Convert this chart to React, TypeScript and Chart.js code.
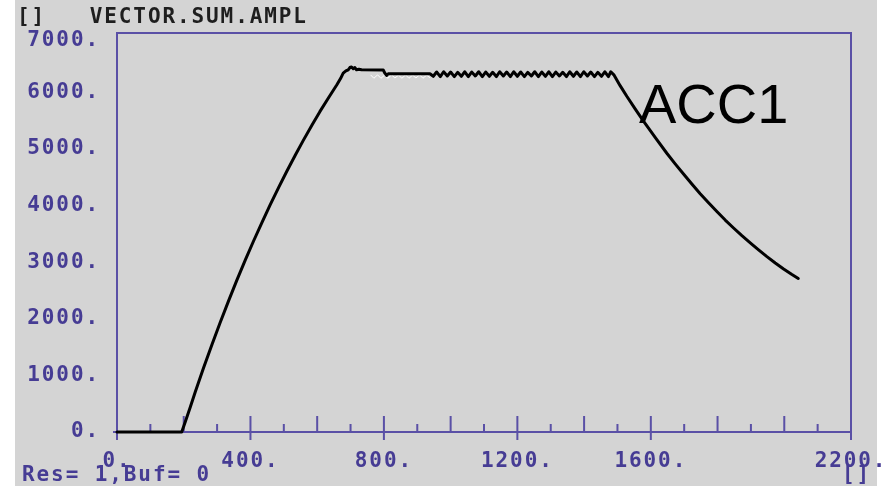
import { useEffect, useRef } from 'react';
import { Chart, registerables } from 'chart.js';

Chart.register(...registerables);

// ---- data ----
const accX = [
  0, 100, 194, 205, 219, 235, 259, 285, 309, 335, 359, 385, 409, 435, 459, 485, 509, 535, 558, 585,
  608, 635, 648, 659, 670, 678, 686, 693, 698, 703, 708, 713, 718, 725, 733, 798, 803, 808, 813, 820, 938,
  948, 958, 969, 979, 990, 1000, 1011, 1021, 1032, 1042, 1053, 1063, 1074, 1084, 1095, 1105, 1116, 1126,
  1137, 1147, 1158, 1168, 1179, 1189, 1200, 1210, 1221, 1231, 1242, 1252, 1263, 1273, 1284, 1294, 1305,
  1315, 1326, 1336, 1347, 1357, 1368, 1378, 1389, 1399, 1410, 1420, 1431, 1441, 1452, 1462, 1473, 1480,
  1490, 1508, 1528, 1553, 1578, 1613, 1648, 1673, 1698, 1723, 1748, 1773, 1798, 1823, 1848, 1873, 1898,
  1923, 1948, 1973, 1998, 2023, 2042,
];
const accY = [
  0, 0, 0, 185, 430, 715, 1125, 1550, 1930, 2325, 2680, 3045, 3370, 3710, 4012, 4328, 4608, 4898, 5148, 5430,
  5660, 5915, 6035, 6135, 6245, 6340, 6380, 6400, 6440, 6450, 6420, 6440, 6400, 6410, 6400, 6396, 6340, 6300, 6330, 6330, 6330,
  6285, 6360, 6280, 6365, 6290, 6360, 6280, 6355, 6285, 6365,
  6280, 6360, 6290, 6365, 6280, 6360, 6285, 6355, 6280, 6365,
  6290, 6360, 6280, 6365, 6285, 6360, 6280, 6355, 6290, 6365,
  6280, 6360, 6285, 6365, 6280, 6360, 6290, 6355, 6280, 6365,
  6285, 6360, 6280, 6365, 6290, 6360, 6280, 6355, 6285, 6365,
  6280, 6365,
  6305, 6120, 5932, 5710, 5492, 5204, 4925, 4738, 4558, 4382, 4210, 4050, 3895, 3745, 3605, 3470, 3342,
  3218, 3098, 2986, 2880, 2782, 2712,
];
const ghostX = [760, 770, 781, 791, 802, 812, 823, 833, 844, 854, 865, 875, 886, 896, 907, 917, 928, 938];
const ghostY = [6310, 6250, 6310, 6250, 6305, 6250, 6310, 6255, 6305, 6250, 6310, 6250, 6305, 6255, 6310, 6250, 6305, 6260];

const xLabelTicks = [0, 400, 800, 1200, 1600, 2200];
const xMajorTicks = [200, 600, 1000, 1400, 1800, 2000];
const xMinorTicks = [100, 300, 500, 700, 900, 1100, 1300, 1500, 1700, 1900, 2100];
const yTicks = [0, 1000, 2000, 3000, 4000, 5000, 6000, 7000];
const yTopTick = 7000;

const titleText = '[]   VECTOR.SUM.AMPL';
const footerText = 'Res= 1,Buf= 0';
const cornerText = '[]';
const curveName = 'ACC1';

// ---- styles ----
const BG = '#d4d4d4';
const AXIS = '#5a50a6';
const LABEL = '#463c94';
const TITLE = '#1e1e1e';
const MONO_FAMILY = '"DejaVu Sans Mono", monospace';
const MONO_SIZE = 21;
const MONO = `bold ${MONO_SIZE}px ${MONO_FAMILY}`;
const SPACING = '1.9px';

function setSpacing(chart: any) {
  (chart.ctx as any).letterSpacing = SPACING;
}

const scopePlugin = {
  id: 'scopePlugin',
  beforeUpdate: setSpacing,
  beforeLayout: setSpacing,
  beforeDraw(chart: any) {
    const ctx = chart.ctx;
    setSpacing(chart);
    ctx.save();
    ctx.fillStyle = '#ffffff';
    ctx.fillRect(0, 0, chart.width, chart.height);
    ctx.fillStyle = BG;
    ctx.fillRect(15, 0, 862, chart.height);
    ctx.restore();
  },
  beforeDatasetsDraw(chart: any) {
    const ctx = chart.ctx;
    const xs = chart.scales.x;
    const ys = chart.scales.y;
    const x0 = xs.getPixelForValue(0);
    const x1 = xs.getPixelForValue(2200);
    const yb = ys.getPixelForValue(0);
    const yt = chart.chartArea.top;
    ctx.save();
    ctx.strokeStyle = AXIS;
    ctx.lineWidth = 2;
    ctx.beginPath();
    ctx.moveTo(x0, yb + 8);
    ctx.lineTo(x0, yt);
    ctx.lineTo(x1, yt);
    ctx.lineTo(x1, yb + 8);
    ctx.moveTo(x0 - 4, yb);
    ctx.lineTo(x1, yb);
    xLabelTicks.forEach((v) => {
      const p = xs.getPixelForValue(v);
      ctx.moveTo(p, yb - 16);
      ctx.lineTo(p, yb + 8);
    });
    xMajorTicks.forEach((v) => {
      const p = xs.getPixelForValue(v);
      ctx.moveTo(p, yb - 16);
      ctx.lineTo(p, yb);
    });
    xMinorTicks.forEach((v) => {
      const p = xs.getPixelForValue(v);
      ctx.moveTo(p, yb - 8);
      ctx.lineTo(p, yb);
    });
    ctx.stroke();
    ctx.restore();
  },
  afterDatasetsDraw(chart: any) {
    const ctx = chart.ctx;
    ctx.save();
    ctx.letterSpacing = SPACING;
    ctx.font = MONO;
    ctx.textBaseline = 'middle';
    ctx.textAlign = 'left';
    ctx.fillStyle = TITLE;
    ctx.fillText(titleText, 17, 18);
    ctx.fillStyle = LABEL;
    ctx.fillText(footerText, 22, 476);
    ctx.fillText(cornerText, 842, 476);
    ctx.letterSpacing = '0px';
    ctx.font = '56px "Liberation Sans", Arial, sans-serif';
    ctx.textBaseline = 'alphabetic';
    ctx.fillStyle = '#000000';
    ctx.fillText(curveName, 639, 123);
    ctx.restore();
  },
};

export default function App() {
  const ref = useRef<HTMLCanvasElement>(null);

  useEffect(() => {
    document.body.style.margin = '0';
    const accData = accX.map((x, i) => ({ x, y: accY[i] }));
    const ghostData = ghostX.map((x, i) => ({ x, y: ghostY[i] }));
    const chart = new Chart(ref.current as HTMLCanvasElement, {
      type: 'line',
      data: {
        datasets: [
          {
            label: curveName,
            data: accData,
            borderColor: '#000000',
            borderWidth: 3,
            pointRadius: 0,
            tension: 0,
            fill: false,
            clip: false as any,
            borderJoinStyle: 'round',
            borderCapStyle: 'round',
          },
          {
            label: 'trace',
            data: ghostData,
            borderColor: '#ffffff',
            borderWidth: 1,
            pointRadius: 0,
            tension: 0,
            fill: false,
          },
        ],
      },
      options: {
        animation: false,
        responsive: false,
        events: [],
        layout: { padding: { left: 0, right: 35, top: 33, bottom: 0 } },
        plugins: {
          legend: { display: false },
          tooltip: { enabled: false },
          title: { display: false },
        },
        scales: {
          x: {
            type: 'linear',
            position: 'bottom',
            min: 0,
            max: 2200,
            grid: { display: false },
            border: { display: false },
            afterBuildTicks: (scale: any) => {
              scale.ticks = xLabelTicks.map((v) => ({ value: v }));
            },
            afterFit: (scale: any) => {
              scale.height = 54;
              scale.paddingLeft = 0;
              scale.paddingRight = 0;
            },
            ticks: {
              autoSkip: false,
              maxRotation: 0,
              minRotation: 0,
              padding: 9,
              color: LABEL,
              font: { family: MONO_FAMILY, size: MONO_SIZE, weight: 'bold' },
              callback: (v: any) => `${v}.`,
            },
          },
          y: {
            type: 'linear',
            position: 'left',
            min: 0,
            max: 7050,
            grid: { display: false },
            border: { display: false },
            afterBuildTicks: (scale: any) => {
              scale.ticks = yTicks.map((v) => ({ value: v }));
            },
            afterFit: (scale: any) => {
              scale.width = 117;
              scale.paddingTop = 0;
              scale.paddingBottom = 0;
            },
            ticks: {
              autoSkip: false,
              padding: 9,
              color: LABEL,
              font: (c: any) => ({
                family: MONO_FAMILY,
                size: MONO_SIZE,
                weight: 'bold',
                lineHeight: c.tick && c.tick.value === yTopTick ? '10px' : 1.2,
              }),
              callback: (v: any) => (v === yTopTick ? ['', `${v}.`] : `${v}.`),
            },
          },
        },
      },
      plugins: [scopePlugin],
    });
    return () => chart.destroy();
  }, []);

  return (
    <div style={{ width: 886, height: 486 }}>
      <canvas ref={ref} width={886} height={486} style={{ display: 'block' }} />
    </div>
  );
}
